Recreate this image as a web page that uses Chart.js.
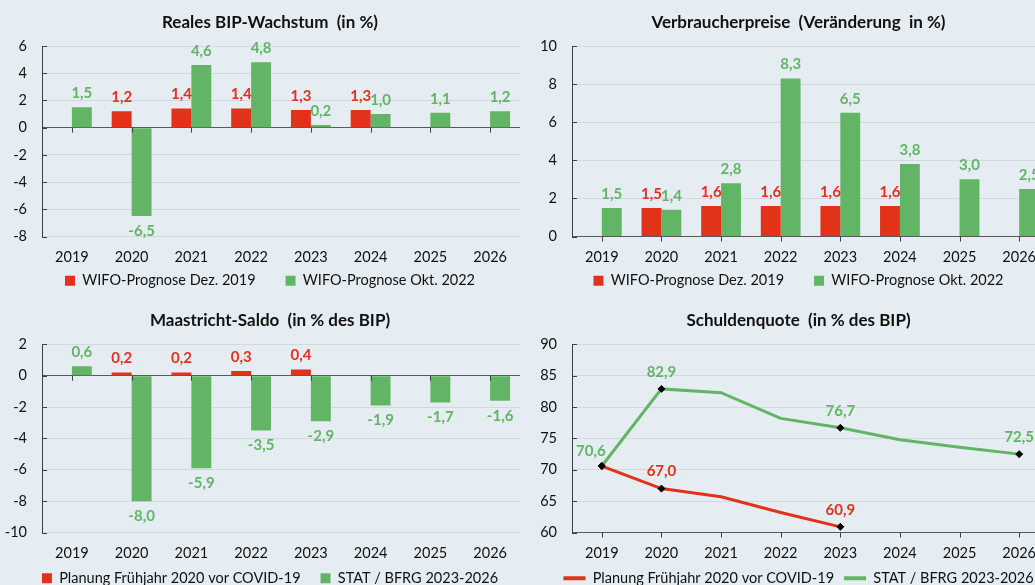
<!DOCTYPE html>
<html lang="de">
<head>
<meta charset="utf-8">
<title>Wirtschaft und Staatsfinanzen</title>
<script src="https://cdn.jsdelivr.net/npm/chart.js@4.4.1/dist/chart.umd.min.js"></script>
<style>
    html, body { margin: 0; padding: 0; }
    body { position: relative; width: 1035px; height: 585px; overflow: hidden; background: #e5edf2; }
    canvas { position: absolute; }
    #bipChart { left: 0; top: 0; }
    #vpiChart { left: 527px; top: 0; }
    #saldoChart { left: 0; top: 295px; }
    #schuldenChart { left: 527px; top: 295px; }
</style>
</head>
<body>
<canvas id="bipChart" width="540" height="321"></canvas>
<canvas id="vpiChart" width="543" height="321"></canvas>
<canvas id="saldoChart" width="540" height="312"></canvas>
<canvas id="schuldenChart" width="543" height="302"></canvas>
<script>
'use strict';

var years = ['2019', '2020', '2021', '2022', '2023', '2024', '2025', '2026'];

// Reales BIP-Wachstum
var bipDez2019 = [null, 1.2, 1.4, 1.4, 1.3, 1.3, null, null];
var bipOkt2022 = [1.5, -6.5, 4.6, 4.8, 0.2, 1.0, 1.1, 1.2];

// Verbraucherpreise
var vpiDez2019 = [null, 1.5, 1.6, 1.6, 1.6, 1.6, null, null];
var vpiOkt2022 = [1.5, 1.4, 2.8, 8.3, 6.5, 3.8, 3.0, 2.5];

// Maastricht-Saldo
var saldoPlanung = [null, 0.2, 0.2, 0.3, 0.4, null, null, null];
var saldoStat = [0.6, -8.0, -5.9, -3.5, -2.9, -1.9, -1.7, -1.6];

// Schuldenquote
var schuldenPlanung = [70.6, 67.0, 65.7, 63.2, 60.9, null, null, null];
var schuldenStat = [70.6, 82.9, 82.3, 78.2, 76.7, 74.8, 73.6, 72.5];

var bipTicks = { min: -8, max: 6, step: 2 };
var vpiTicks = { min: 0, max: 10, step: 2 };
var saldoTicks = { min: -10, max: 2, step: 2 };
var schuldenTicks = { min: 60, max: 90, step: 5 };

var RED = '#e2321a';
var GREEN = '#63b566';
var DARK = '#404040';
var GRID = '#d2d9dd';
var FONT = 'Lato, "Open Sans", sans-serif';

Chart.defaults.font.family = FONT;
Chart.defaults.color = '#111';
Chart.defaults.animation = false;

var fmt = function (v) {
    return v.toFixed(1).replace('.', ',');
};

// Werte an Balken / Punkten
var valueLabels = {
    id: 'valueLabels',
    afterDatasetsDraw: function (chart) {
        var ctx = chart.ctx;
        ctx.save();
        ctx.font = 'bold 15px ' + FONT;
        ctx.textAlign = 'center';
        ctx.textBaseline = 'middle';
        chart.data.datasets.forEach(function (ds, di) {
            var meta = chart.getDatasetMeta(di);
            ctx.fillStyle = ds.labelColor;
            meta.data.forEach(function (el, i) {
                var v = ds.data[i];
                if (v === null) return;
                if (ds.labelAt && ds.labelAt.indexOf(i) < 0) return;
                var shift = (ds.labelShift && ds.labelShift[i]) || [0, 0];
                var y;
                if (meta.type === 'bar') {
                    y = v < 0 ? el.y + 15 : el.y - 14;
                } else {
                    y = el.y - 17;
                }
                ctx.fillText(fmt(v), el.x + shift[0], y + shift[1]);
            });
        });
        ctx.restore();
    }
};

// kurze Striche an der Nulllinie und innen an der y-Achse
var axisTicks = {
    id: 'axisTicks',
    afterDatasetsDraw: function (chart) {
        var ctx = chart.ctx;
        var x = chart.scales.x;
        var y = chart.scales.y;
        var base = y.getPixelForValue(chart.options.baseValue);
        ctx.save();
        ctx.strokeStyle = DARK;
        ctx.lineWidth = 1;
        ctx.beginPath();
        years.forEach(function (_, i) {
            var px = Math.round(x.getPixelForValue(i)) + 0.5;
            ctx.moveTo(px, base);
            ctx.lineTo(px, base + 5);
        });
        y.ticks.forEach(function (t) {
            var py = Math.round(y.getPixelForValue(t.value)) + 0.5;
            ctx.moveTo(chart.chartArea.left, py);
            ctx.lineTo(chart.chartArea.left + 5, py);
        });
        ctx.stroke();
        ctx.restore();
    }
};

// Legende naeher an die Achsenbeschriftung ruecken
var legendLift = {
    id: 'legendLift',
    afterLayout: function (chart) {
        var d = chart.options.legendShift || 0;
        chart.legend.top += d;
        chart.legend.bottom += d;
    }
};

function makeChart(id, opts) {
    var legendLabels = {
        font: { size: 14.5 },
        color: '#111',
        boxWidth: 10,
        boxHeight: 10,
        padding: opts.legendGap
    };
    if (opts.type === 'line') {
        legendLabels.boxWidth = 22;
        legendLabels.boxHeight = 4;
        legendLabels.generateLabels = function (chart) {
            return Chart.defaults.plugins.legend.labels.generateLabels(chart).map(function (item) {
                item.fillStyle = chart.data.datasets[item.datasetIndex].borderColor;
                item.lineWidth = 0;
                return item;
            });
        };
    }

    return new Chart(document.getElementById(id), {
        type: opts.type,
        data: { labels: years, datasets: opts.datasets },
        plugins: [legendLift, axisTicks, valueLabels],
        options: {
            responsive: false,
            devicePixelRatio: 1,
            baseValue: opts.base,
            legendShift: opts.legendShift,
            layout: { padding: 0 },
            datasets: {
                bar: { categoryPercentage: 0.667, barPercentage: 1.0, borderWidth: 0 }
            },
            plugins: {
                title: {
                    display: true,
                    text: opts.title,
                    color: '#111',
                    font: { size: 17, weight: 'bold' },
                    padding: opts.titlePad
                },
                legend: {
                    position: 'bottom',
                    labels: legendLabels
                },
                tooltip: { enabled: false }
            },
            scales: {
                x: {
                    offset: true,
                    grid: { display: false, drawTicks: false },
                    border: { display: false },
                    ticks: { font: { size: 14.5 }, color: '#111', padding: opts.xPad, maxRotation: 0 },
                    afterFit: function (s) { s.height = 30; }
                },
                y: {
                    min: opts.ticks.min,
                    max: opts.ticks.max,
                    ticks: {
                        stepSize: opts.ticks.step,
                        font: { size: 14.5 },
                        color: '#111',
                        padding: 15,
                        callback: function (v) { return String(v); }
                    },
                    grid: {
                        drawTicks: false,
                        color: function (c) {
                            return c.tick && c.tick.value === opts.base ? '#595959' : GRID;
                        }
                    },
                    border: { display: true, color: DARK },
                    afterFit: function (s) { s.width = opts.yWidth; }
                },
                yPad: {
                    type: 'linear',
                    position: 'right',
                    grid: { display: false },
                    border: { display: false },
                    ticks: { display: false },
                    afterFit: function (s) { s.width = opts.padRight; }
                }
            }
        }
    });
}

function barSet(label, data, color) {
    return {
        label: label,
        data: data,
        backgroundColor: color,
        labelColor: color
    };
}

function lineSet(label, data, color, markAt, labelAt, labelShift) {
    return {
        label: label,
        data: data,
        borderColor: color,
        backgroundColor: color,
        borderWidth: 3,
        tension: 0,
        pointStyle: 'rectRot',
        pointRadius: function (c) { return markAt.indexOf(c.dataIndex) >= 0 ? 3.5 : 0; },
        pointBackgroundColor: '#000',
        pointBorderColor: '#000',
        pointBorderWidth: 1,
        labelColor: color,
        labelAt: labelAt,
        labelShift: labelShift
    };
}

makeChart('bipChart', {
    type: 'bar',
    title: 'Reales BIP-Wachstum  (in %)',
    ticks: bipTicks,
    base: 0,
    titlePad: { top: 12, bottom: 13.6 },
    xPad: 12.5,
    legendGap: 30,
    legendShift: -23,
    yWidth: 42,
    padRight: 20,
    datasets: [
        barSet('WIFO-Prognose Dez. 2019', bipDez2019, RED),
        barSet('WIFO-Prognose Okt. 2022', bipOkt2022, GREEN)
    ]
});

makeChart('vpiChart', {
    type: 'bar',
    title: 'Verbraucherpreise  (Veränderung  in %)',
    ticks: vpiTicks,
    base: 0,
    titlePad: { top: 12, bottom: 13.6 },
    xPad: 12.5,
    legendGap: 30,
    legendShift: -23,
    yWidth: 45,
    padRight: 21,
    datasets: [
        barSet('WIFO-Prognose Dez. 2019', vpiDez2019, RED),
        barSet('WIFO-Prognose Okt. 2022', vpiOkt2022, GREEN)
    ]
});

makeChart('saldoChart', {
    type: 'bar',
    title: 'Maastricht-Saldo  (in % des BIP)',
    ticks: saldoTicks,
    base: 0,
    titlePad: { top: 15, bottom: 14 },
    xPad: 12.5,
    legendGap: 20,
    legendShift: -11.5,
    yWidth: 42,
    padRight: 20,
    datasets: [
        barSet('Planung Frühjahr 2020 vor COVID-19', saldoPlanung, RED),
        barSet('STAT / BFRG 2023-2026', saldoStat, GREEN)
    ]
});

makeChart('schuldenChart', {
    type: 'line',
    title: 'Schuldenquote  (in % des BIP)',
    ticks: schuldenTicks,
    base: 60,
    titlePad: { top: 15, bottom: 14 },
    xPad: 12.5,
    legendGap: 10,
    legendShift: -1.5,
    yWidth: 45,
    padRight: 21,
    datasets: [
        lineSet('Planung Frühjahr 2020 vor COVID-19', schuldenPlanung, RED, [0, 1, 4], [1, 4], null),
        lineSet('STAT / BFRG 2023-2026', schuldenStat, GREEN, [0, 1, 4, 7], [0, 1, 4, 7], { 0: [-11, 2] })
    ]
});
</script>
</body>
</html>
